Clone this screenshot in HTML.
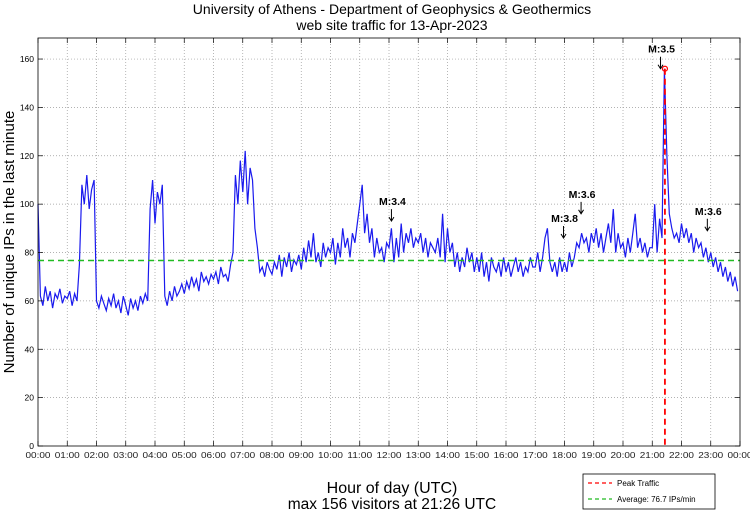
<!DOCTYPE html>
<html><head><meta charset="utf-8"><style>
body{margin:0;background:#fff;}
svg{display:block;font-family:"Liberation Sans",sans-serif;}
</style></head><body>
<svg id="chart" width="750" height="511" viewBox="0 0 750 511">
<text x="392" y="14" font-size="14" text-anchor="middle">University of Athens - Department of Geophysics &amp; Geothermics</text>
<text x="392" y="30" font-size="14" text-anchor="middle">web site traffic for 13-Apr-2023</text>
<g id="grid"></g>
<g id="series"></g>
<g id="axes"></g>
<g id="ann"></g>
<text transform="translate(14,242) rotate(-90)" font-size="15" text-anchor="middle">Number of unique IPs in the last minute</text>
<text x="392" y="493" font-size="16" text-anchor="middle">Hour of day (UTC)</text>
<text x="392" y="509" font-size="15.5" text-anchor="middle">max 156 visitors at 21:26 UTC</text>
<g>
<rect x="583" y="474" width="132" height="35" fill="#fff" stroke="#000" stroke-width="0.8"/>
<line x1="588" y1="483" x2="612" y2="483" stroke="#f00" stroke-width="1.2" stroke-dasharray="4,3"/>
<text x="617" y="486" font-size="8">Peak Traffic</text>
<line x1="588" y1="499" x2="612" y2="499" stroke="#2b2" stroke-width="1.2" stroke-dasharray="4,3"/>
<text x="617" y="502" font-size="8">Average: 76.7 IPs/min</text>
</g>
</svg>
<script>
const hourLabels=["00:00","01:00","02:00","03:00","04:00","05:00","06:00","07:00","08:00","09:00","10:00","11:00","12:00","13:00","14:00","15:00","16:00","17:00","18:00","19:00","20:00","21:00","22:00","23:00","00:00"];
const yTicks=[0,20,40,60,80,100,120,140,160];
const stepMinutes=5;
const visitors=[
100,62,58,66,60,64,57,63,61,65,59,62,
61,64,58,63,60,75,108,100,112,98,106,110,
60,57,62,59,56,61,58,63,57,60,55,62,
58,54,61,57,60,56,62,59,63,60,98,110,
92,105,100,108,62,58,64,60,66,62,64,67,
63,68,65,70,66,69,64,72,68,70,67,71,
69,72,67,74,70,71,68,75,80,112,100,118,
105,122,100,115,110,90,82,72,74,70,76,73,
71,76,73,79,70,78,74,80,72,77,75,79,
73,82,76,85,78,88,76,80,74,84,78,82,
80,86,75,84,78,90,82,86,78,88,84,92,
100,108,88,96,84,90,78,86,80,82,76,84,
82,90,76,86,78,92,80,88,84,90,82,86,
84,88,80,86,78,84,82,80,86,78,96,76,
90,80,84,74,80,72,78,74,82,76,80,72,
78,72,80,70,76,68,78,74,72,76,70,78,
72,76,70,74,78,72,76,70,74,72,78,74,
74,80,72,78,86,90,76,72,76,70,78,72,
76,72,80,74,78,84,82,88,84,86,80,88,
84,90,82,88,80,86,92,84,98,80,88,82,
84,78,86,80,88,96,82,86,80,84,78,82,
82,100,80,94,86,156,120,96,90,86,88,84,
92,86,90,84,88,80,86,82,84,78,82,76,
80,74,78,72,76,70,74,68,72,66,70,64];
const average=76.7;
const peakMinute=21*60+26;
const peakValue=156;
const quakes=[{label:"M:3.4",minute:12*60+5,y:93},{label:"M:3.8",minute:17*60+58,y:86},{label:"M:3.6",minute:18*60+34,y:96},{label:"M:3.5",minute:21*60+17,y:156},{label:"M:3.6",minute:22*60+53,y:89}];

const X0=38,X1=740,Y0=446,YT=38,YMAX=168.7;
const xs=m=>X0+(m/1440)*(X1-X0);
const ys=v=>Y0-(v/YMAX)*(Y0-YT);
const NS="http://www.w3.org/2000/svg";
function mk(tag,attrs,parent){const e=document.createElementNS(NS,tag);for(const k in attrs)e.setAttribute(k,attrs[k]);parent.appendChild(e);return e;}
const grid=document.getElementById('grid'),axes=document.getElementById('axes'),series=document.getElementById('series'),ann=document.getElementById('ann');
hourLabels.forEach((l,i)=>{const x=xs(i*60);
 if(i>0&&i<24){const g=mk('line',{x1:x,x2:x,y1:YT,y2:Y0,stroke:'#999','stroke-width':0.7,'stroke-dasharray':'1,2'},grid);
 
 }
 mk('line',{x1:x,x2:x,y1:Y0,y2:Y0-5,stroke:'#000','stroke-width':0.7},axes);
 mk('line',{x1:x,x2:x,y1:YT,y2:YT+5,stroke:'#000','stroke-width':0.7},axes);
 const t=mk('text',{x:x,y:Y0+12,'font-size':8.5,'text-anchor':'middle',textLength:25,lengthAdjust:'spacingAndGlyphs',fill:'#222'},axes);t.textContent=l;
 
 
});
yTicks.forEach(v=>{const y=ys(v);
 if(v>0){const g=mk('line',{x1:X0,x2:X1,y1:y,y2:y,stroke:'#999','stroke-width':0.7,'stroke-dasharray':'1,2'},grid);
 
 }
 mk('line',{x1:X0,x2:X0+5,y1:y,y2:y,stroke:'#000','stroke-width':0.7},axes);
 mk('line',{x1:X1,x2:X1-5,y1:y,y2:y,stroke:'#000','stroke-width':0.7},axes);
 const t=mk('text',{x:X0-4,y:y+3,'font-size':8.5,'text-anchor':'end'},axes);t.textContent=v;
 
 
});
const box=mk('rect',{x:X0,y:YT,width:X1-X0,height:Y0-YT,fill:'none',stroke:'#000','stroke-width':0.8},axes);


const pts=visitors.map((v,i)=>xs(i*stepMinutes).toFixed(1)+','+ys(v).toFixed(1)).join(' ');
const pl=mk('polyline',{points:pts,fill:'none',stroke:'#1a1aee','stroke-width':1.2},series);


const av=mk('line',{x1:X0,x2:X1,y1:ys(average),y2:ys(average),stroke:'#2b2','stroke-width':1.5,'stroke-dasharray':'6,4'},series);


const pk=mk('line',{x1:xs(peakMinute),x2:xs(peakMinute),y1:ys(peakValue),y2:Y0,stroke:'#f00','stroke-width':1.8,'stroke-dasharray':'6,4'},series);


const pc=mk('circle',{cx:xs(peakMinute),cy:ys(peakValue),r:2.5,fill:'none',stroke:'#f00','stroke-width':1.2},series);


quakes.forEach(q=>{const x=xs(q.minute),y=ys(q.y);
 const a=mk('text',{x:x+1,y:y-16,'font-size':10.5,'font-weight':'bold','text-anchor':'middle'},ann);a.textContent=q.label;
 
 
 const r=mk('path',{d:`M${x},${y-12}V${y}M${x-2.5},${y-4}L${x},${y}L${x+2.5},${y-4}`,fill:'none',stroke:'#000','stroke-width':1},ann);
 
 
});
</script>
</body></html>
